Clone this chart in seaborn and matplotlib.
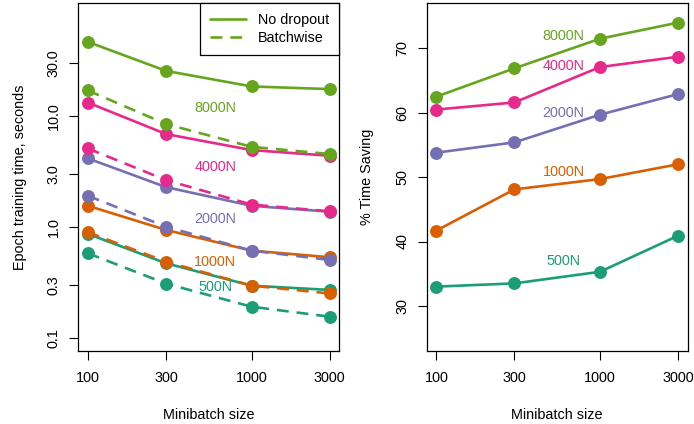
import numpy as np
import pandas as pd
import seaborn as sns
import matplotlib.pyplot as plt
from matplotlib.lines import Line2D
from matplotlib.ticker import NullLocator, FixedLocator, FixedFormatter

# ---------------- data ----------------
batch = [100, 300, 1000, 3000]
sizes = ["500N", "1000N", "2000N", "4000N", "8000N"]
colors = ["#1B9E77", "#D95F02", "#7570B3", "#E7298A", "#66A61E"]

# Epoch training time (seconds)
nodrop_500 = [0.87, 0.473, 0.297, 0.272]
nodrop_1000 = [1.56, 0.945, 0.615, 0.536]
nodrop_2000 = [4.17, 2.30, 1.56, 1.38]
nodrop_4000 = [13.3, 6.92, 4.96, 4.41]
nodrop_8000 = [46.9, 25.7, 18.6, 17.6]

batchwise_500 = [0.582, 0.310, 0.192, 0.156]
batchwise_1000 = [0.90, 0.489, 0.297, 0.253]
batchwise_2000 = [1.92, 1.01, 0.615, 0.507]
batchwise_4000 = [5.13, 2.66, 1.60, 1.39]
batchwise_8000 = [17.1, 8.52, 5.31, 4.57]

# % Time saving
saving_500 = [33.0, 33.5, 35.3, 40.9]
saving_1000 = [41.7, 48.1, 49.7, 52.0]
saving_2000 = [53.8, 55.4, 59.7, 62.9]
saving_4000 = [60.5, 61.6, 67.1, 68.7]
saving_8000 = [62.5, 66.9, 71.5, 74.0]

# label anchor positions (data coords)
left_label_x = 600
left_label_y = [0.289, 0.486, 1.19, 3.5, 12.0]
right_label_x = 600
right_label_y = [37.0, 50.85, 59.9, 67.2, 71.9]

x_ticks = [100, 300, 1000, 3000]
x_ticklabels = ["100", "300", "1000", "3000"]
left_yticks = [0.1, 0.3, 1.0, 3.0, 10.0, 30.0]
left_yticklabels = ["0.1", "0.3", "1.0", "3.0", "10.0", "30.0"]
right_yticks = [30, 40, 50, 60, 70]
right_yticklabels = ["30", "40", "50", "60", "70"]

nodrop = [nodrop_500, nodrop_1000, nodrop_2000, nodrop_4000, nodrop_8000]
batchw = [batchwise_500, batchwise_1000, batchwise_2000, batchwise_4000, batchwise_8000]
saving = [saving_500, saving_1000, saving_2000, saving_4000, saving_8000]

rows = []
for s, nd, bw, sv in zip(sizes, nodrop, batchw, saving):
    for b, a, c, d in zip(batch, nd, bw, sv):
        rows.append(dict(size=s, batch=b, nodrop=a, batchwise=c, saving=d))
df = pd.DataFrame(rows)

# ---------------- style ----------------
sns.set_style("ticks")
plt.rcParams["font.family"] = ["Liberation Sans", "DejaVu Sans"]
plt.rcParams["text.color"] = "black"
plt.rcParams["axes.labelcolor"] = "black"
plt.rcParams["xtick.color"] = "black"
plt.rcParams["ytick.color"] = "black"
FS = 10.4
plt.rcParams["font.size"] = FS

fig = plt.figure(figsize=(6.94, 4.24), dpi=100)
axL = fig.add_axes([0.1128, 0.1722, 0.3761, 0.8200])
axR = fig.add_axes([0.6148, 0.1722, 0.3761, 0.8200])

LW = 1.9
MS = 9.3
DASH = (4.5, 3.0)

for s, c in zip(sizes, colors):
    sub = df[df["size"] == s]
    sns.lineplot(data=sub, x="batch", y="nodrop", ax=axL, color=c, lw=LW,
                 marker="o", markersize=MS, markeredgewidth=0, legend=False)
    sns.lineplot(data=sub, x="batch", y="batchwise", ax=axL, color=c, lw=LW,
                 marker="o", markersize=MS, markeredgewidth=0, legend=False)
    axL.lines[-1].set_dashes(DASH)
    sns.lineplot(data=sub, x="batch", y="saving", ax=axR, color=c, lw=LW,
                 marker="o", markersize=MS, markeredgewidth=0, legend=False)

for s, c, yl, yr in zip(sizes, colors, left_label_y, right_label_y):
    axL.text(left_label_x, yl, s, color=c, ha="center", va="center", fontsize=FS)
    axR.text(right_label_x, yr, s, color=c, ha="center", va="center", fontsize=FS)

ext = (x_ticks[-1] / x_ticks[0]) ** 0.04
for ax in (axL, axR):
    ax.set_xscale("log")
    ax.set_xlim(x_ticks[0] / ext, x_ticks[-1] * ext)
    ax.xaxis.set_major_locator(FixedLocator(x_ticks))
    ax.xaxis.set_major_formatter(FixedFormatter(x_ticklabels))
    ax.xaxis.set_minor_locator(NullLocator())
    ax.set_xlabel("Minibatch size", fontsize=FS, labelpad=16.5)
    for sp in ax.spines.values():
        sp.set_visible(True)
        sp.set_color("black")
        sp.set_linewidth(0.9)
    ax.tick_params(axis="both", direction="out", length=6.5, width=0.8,
                   color="black", labelcolor="black", labelsize=FS, pad=8)
    ax.tick_params(axis="y", pad=6)

axL.set_yscale("log")
yext = (80 / 0.1) ** 0.04
axL.set_ylim(0.1 / yext, 80 * yext)
axL.yaxis.set_major_locator(FixedLocator(left_yticks))
axL.yaxis.set_major_formatter(FixedFormatter(left_yticklabels))
axL.yaxis.set_minor_locator(NullLocator())
axL.set_ylabel("Epoch training time, seconds", fontsize=FS, labelpad=14)
for lab in axL.get_yticklabels():
    lab.set_rotation(90)
    lab.set_va("center")

axR.set_ylim(23, 77)
axR.yaxis.set_major_locator(FixedLocator(right_yticks))
axR.yaxis.set_major_formatter(FixedFormatter(right_yticklabels))
axR.set_ylabel("% Time Saving", fontsize=FS, labelpad=15)
for lab in axR.get_yticklabels():
    lab.set_rotation(90)
    lab.set_va("center")

handles = [Line2D([], [], color=colors[-1], lw=LW),
           Line2D([], [], color=colors[-1], lw=LW, dashes=DASH)]
leg = axL.legend(handles, ["No dropout", "Batchwise"], loc="upper right",
                 frameon=True, fancybox=False, edgecolor="black",
                 borderaxespad=0, borderpad=0.7, labelspacing=0.25,
                 handlelength=2.45, handletextpad=0.85, fontsize=FS)
leg.get_frame().set_linewidth(0.9)
leg.get_frame().set_alpha(1)

fig.savefig("out.png", dpi=100)
